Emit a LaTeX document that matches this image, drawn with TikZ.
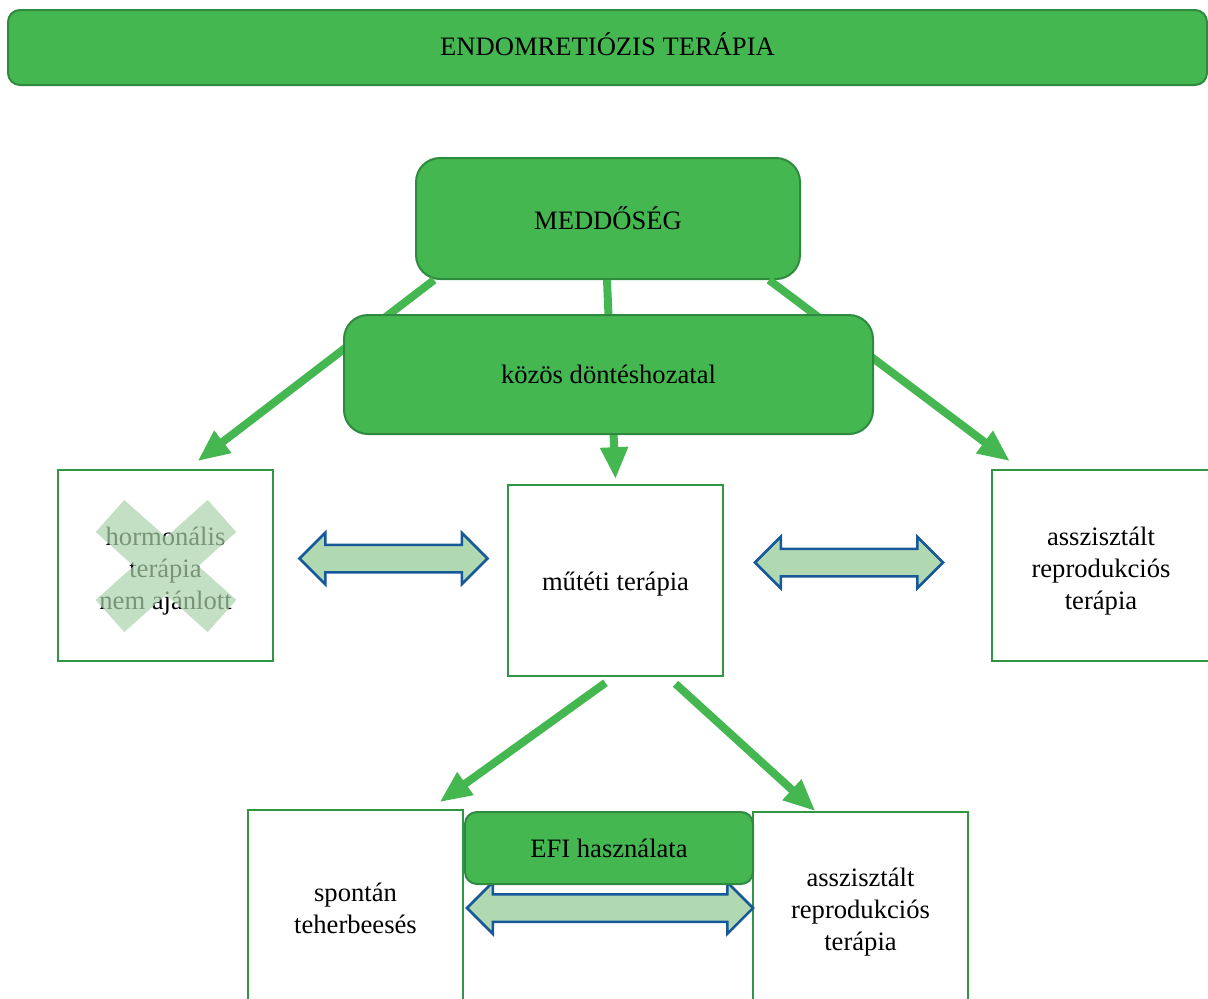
\documentclass[tikz,border=0pt]{standalone}
\usepackage{fontspec}
\setmainfont{Liberation Serif}
\usetikzlibrary{shapes.arrows, arrows.meta, positioning, calc}
\definecolor{endogreen}{RGB}{69,183,81}
\definecolor{endodark}{RGB}{46,138,62}
\definecolor{endoline}{RGB}{48,150,68}
\definecolor{endolight}{RGB}{176,217,178}
\definecolor{endoblue}{RGB}{22,88,152}
\definecolor{endocross}{RGB}{172,211,172}
%% text lowered inside its box, box itself unchanged
\newcommand{\lowtext}[2]{\raisebox{-#1}[\height][\depth]{%
  \begin{tabular}{@{}c@{}}#2\end{tabular}}}
\tikzset{
  %% ---- boxes ----
  greenbox/.style = {rectangle, rounded corners=#1,
                   draw=endodark, line width=2pt,
                   fill=endogreen, align=center, inner sep=0pt},
  greenbox/.default = 24pt,
  whitebox/.style = {rectangle, draw=endoline, line width=1.6pt,
                   fill=white, minimum width=215pt, align=center,
                   inner sep=0pt},
  %% ---- arrows ----
  greenarrow/.style = {-{Triangle[length=32pt, width=26pt]},
                   line width=8pt, draw=endogreen},
  bothways/.style = {double arrow, draw=endoblue, line width=2.5pt,
                   fill=endolight, minimum height=#1, minimum width=0pt,
                   inner xsep=0pt, inner ysep=12.5pt,
                   double arrow head extend=12pt},
  crossbar/.style = {line width=43pt, draw=endocross, opacity=0.7},
}

\begin{document}
\begin{tikzpicture}[x=1pt, y=-1pt, font=\fontsize{26.6}{32}\selectfont]

  \useasboundingbox (0,0) rectangle (1208,999);

  %% Title
  \node[greenbox=12pt, minimum width=1199pt, minimum height=75pt] (title)
    at (607.5,47.5) {\lowtext{1pt}{ENDOMRETIÓZIS TERÁPIA}};

  %% Top decision
  \node[greenbox, minimum width=384pt, minimum height=121pt] (medd)
    at (608,218.5) {MEDDŐSÉG};

  %% Middle row
  \node[whitebox, minimum height=191pt] (hormon) at (165.5,565.5)
    {\lowtext{6pt}{hormonális\\terápia\\nem ajánlott}};
  \node[whitebox, minimum height=191pt] (mutet) at (615.5,580.5)
    {\lowtext{4pt}{műtéti terápia}};
  \node[whitebox, minimum width=218pt, minimum height=191pt] (art)
    at (1101,565.5) {\lowtext{6pt}{asszisztált\\reprodukciós\\terápia}};

  %% Bottom row
  \node[whitebox, minimum height=196pt] (spont) at (355.5,908)
    {spontán\\teherbeesés};
  \node[whitebox, minimum height=196pt] (artb) at (860.5,910)
    {\lowtext{2pt}{asszisztált\\reprodukciós\\terápia}};

  %% Crossed out (one path, so the middle is not darker)
  \draw[crossbar] (110,516) -- (222,616) (222,516) -- (110,616);

  %% Arrows from MEDDŐSÉG
  \draw[greenarrow] ([xshift=19pt]medd.south west) --
    ([xshift=32pt, yshift=8pt]hormon.north);
  \draw[greenarrow] ([xshift=-1pt]medd.south) --
    ([yshift=5pt]mutet.north);
  \draw[greenarrow] ([xshift=-32pt]medd.south east) --
    ([xshift=-91pt, yshift=8pt]art.north);

  %% Shared decision (over the arrows)
  \node[greenbox, minimum width=529pt, minimum height=119pt] (kozos)
    at (608.5,374.5) {\lowtext{3pt}{közös döntéshozatal}};

  %% Arrows from műtéti terápia
  \draw[greenarrow] ([xshift=-10pt, yshift=-6pt]mutet.south) --
    ([xshift=84pt, yshift=7pt]spont.north);
  \draw[greenarrow] ([xshift=60pt, yshift=-7pt]mutet.south) --
    ([xshift=-45pt]artb.north);

  %% Two-way arrows
  \node[bothways=188pt] (lr1) at (393.5,558.5) {};
  \node[bothways=188pt] (lr2) at (849,562.5) {};
  \node[bothways=286pt] (lr3) at (610,908) {};

  %% EFI
  \node[greenbox=12pt, minimum width=288pt, minimum height=72pt] (efi)
    at (609,848) {\lowtext{3pt}{EFI használata}};

\end{tikzpicture}
\end{document}
